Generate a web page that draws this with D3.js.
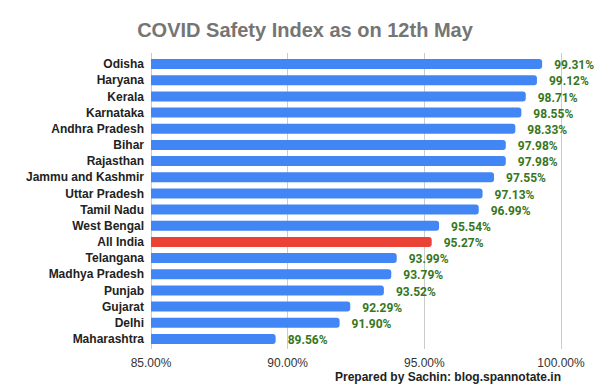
<!DOCTYPE html>
<html lang="en">
<head>
    <meta charset="UTF-8">
    <title>COVID Safety Index</title>
    <script src="https://cdnjs.cloudflare.com/ajax/libs/d3/7.8.5/d3.min.js"></script>
    <style>
        body {
            margin: 0;
            background: #fff;
        }

        svg {
            display: block;
        }
    </style>
</head>
<body>
    <svg id="chart" width="613" height="388"></svg>

    <script>
        const states = ["Odisha", "Haryana", "Kerala", "Karnataka", "Andhra Pradesh", "Bihar",
            "Rajasthan", "Jammu and Kashmir", "Uttar Pradesh", "Tamil Nadu", "West Bengal",
            "All India", "Telangana", "Madhya Pradesh", "Punjab", "Gujarat", "Delhi", "Maharashtra"];
        const safetyIndex = [99.31, 99.12, 98.71, 98.55, 98.33, 97.98, 97.98, 97.55, 97.13,
            96.99, 95.54, 95.27, 93.99, 93.79, 93.52, 92.29, 91.90, 89.56];
        const xTicks = [85, 90, 95, 100];

        const svg = d3.select("#chart");
        const rows = states.map((s, i) => ({ name: s, value: safetyIndex[i] }));

        const x = d3.scaleLinear().domain([85, 100]).range([151, 561]);
        const y = d3.scaleBand().domain(states).range([56, 347]).paddingInner(0.38).paddingOuter(0.19);

        // title
        svg.append("text")
            .attr("x", 305)
            .attr("y", 37)
            .attr("text-anchor", "middle")
            .attr("font-family", "Liberation Sans, Arial, sans-serif")
            .attr("font-weight", "bold")
            .attr("font-size", 20)
            .attr("fill", "#757575")
            .text("COVID Safety Index as on 12th May");

        // vertical gridlines
        svg.append("g")
            .selectAll("line")
            .data(xTicks)
            .join("line")
            .attr("x1", d => x(d))
            .attr("x2", d => x(d))
            .attr("y1", 53)
            .attr("y2", 349)
            .attr("stroke", "#cccccc")
            .attr("stroke-width", 1)
            .attr("shape-rendering", "crispEdges");

        // bars, square on the left, rounded on the right
        function barPath(d) {
            const x0 = x(85), x1 = x(d.value), y0 = y(d.name), h = y.bandwidth();
            const r = Math.min(3, (x1 - x0) / 2);
            return `M${x0},${y0}H${x1 - r}Q${x1},${y0} ${x1},${y0 + r}V${y0 + h - r}Q${x1},${y0 + h} ${x1 - r},${y0 + h}H${x0}Z`;
        }

        svg.append("g")
            .selectAll("path")
            .data(rows)
            .join("path")
            .attr("d", barPath)
            .attr("fill", d => d.name === "All India" ? "#ea4335" : "#4285f4");

        // category labels
        svg.append("g")
            .selectAll("text")
            .data(rows)
            .join("text")
            .attr("x", 144)
            .attr("y", d => y(d.name) + y.bandwidth() / 2)
            .attr("dy", "0.35em")
            .attr("text-anchor", "end")
            .attr("font-family", "Liberation Sans, Arial, sans-serif")
            .attr("font-weight", "bold")
            .attr("font-size", 12)
            .attr("fill", "#222222")
            .text(d => d.name);

        // value labels
        svg.append("g")
            .selectAll("text")
            .data(rows)
            .join("text")
            .attr("x", d => x(d.value) + 12)
            .attr("y", d => y(d.name) + y.bandwidth() / 2 + 1)
            .attr("dy", "0.35em")
            .attr("font-family", "Roboto, sans-serif")
            .attr("font-weight", "bold")
            .attr("font-size", 12)
            .attr("fill", "#38761d")
            .text(d => d.value.toFixed(2) + "%");

        // x axis tick labels
        svg.append("g")
            .selectAll("text")
            .data(xTicks)
            .join("text")
            .attr("x", d => x(d))
            .attr("y", 367)
            .attr("text-anchor", "middle")
            .attr("font-family", "Liberation Sans, Arial, sans-serif")
            .attr("font-size", 12)
            .attr("fill", "#333333")
            .text(d => d.toFixed(2) + "%");

        // credit line
        svg.append("text")
            .attr("x", 561)
            .attr("y", 381)
            .attr("text-anchor", "end")
            .attr("font-family", "Liberation Sans, Arial, sans-serif")
            .attr("font-weight", "bold")
            .attr("font-size", 12)
            .attr("fill", "#222222")
            .text("Prepared by Sachin: blog.spannotate.in");
    </script>
</body>
</html>
